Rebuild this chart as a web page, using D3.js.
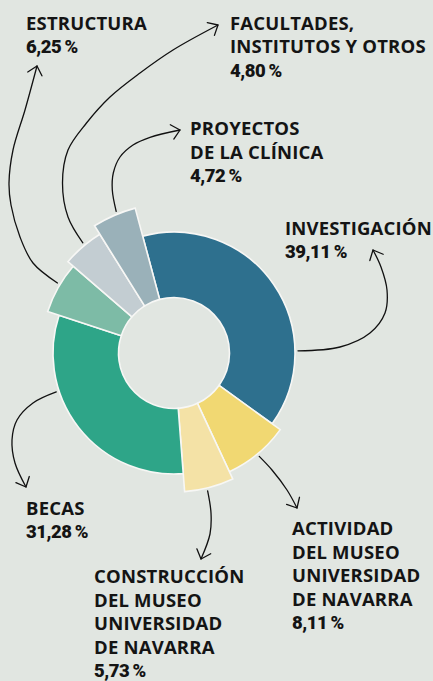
<!DOCTYPE html>
<html>
<head>
<meta charset="utf-8">
<script src="https://cdn.jsdelivr.net/npm/d3@7"></script>
<style>
  html, body { margin: 0; padding: 0; background: #e1e6e1; }
  svg { display: block; }
  .lbl { font-family: "Open Sans", "Noto Sans", sans-serif; font-weight: 700; fill: #141414; }
  .pct { font-family: Roboto, "Open Sans", sans-serif; font-weight: 900; fill: #141414; }
</style>
</head>
<body>
<svg id="chart" width="433" height="681"></svg>
<script>
// Budget shares, clockwise from the top
const categories = [
  "INVESTIGACIÓN",
  "ACTIVIDAD DEL MUSEO UNIVERSIDAD DE NAVARRA",
  "CONSTRUCCIÓN DEL MUSEO UNIVERSIDAD DE NAVARRA",
  "BECAS",
  "ESTRUCTURA",
  "FACULTADES, INSTITUTOS Y OTROS",
  "PROYECTOS DE LA CLÍNICA"
];
const values = [39.11, 8.11, 5.73, 31.28, 6.25, 4.80, 4.72];

// Label lines as set in the chart
const labelLines = [
  ["INVESTIGACIÓN"],
  ["ACTIVIDAD", "DEL MUSEO", "UNIVERSIDAD", "DE NAVARRA"],
  ["CONSTRUCCIÓN", "DEL MUSEO", "UNIVERSIDAD", "DE NAVARRA"],
  ["BECAS"],
  ["ESTRUCTURA"],
  ["FACULTADES,", "INSTITUTOS Y OTROS"],
  ["PROYECTOS", "DE LA CLÍNICA"]
];

// Styling / layout per slice
const colors = ["#2e708e", "#f1d872", "#f4e2a6", "#2ea588", "#7dbba6", "#c3cdd2", "#9ab1b9"];
const outerRadii = [121, 131, 139, 121, 133, 140, 150];
const labelPos = [[285, 234.5], [292, 535], [94, 583], [26, 514.5], [26, 29.5], [230, 29.5], [190, 135]];
// Where each annotation arrow leaves its slice (degrees, clockwise from 12 o'clock)
const arrowStartAngle = [89, 140.5, 166.3, 251.7, 301, 320.4, 337.8];
// Waypoints of each arrow after its start, ending at the tip
const arrowPaths = [
  [[340, 347], [370, 333], [385, 313], [387, 290], [381, 267], [373, 250]],
  [[272, 470], [287, 490], [297, 508]],
  [[211, 513], [210, 534], [201, 559]],
  [[33, 403], [17, 420], [12, 440], [15, 463], [26, 487]],
  [[33, 263], [20, 237], [11, 205], [9, 183], [13, 150], [25, 110], [37, 66]],
  [[68, 217], [62.5, 183], [68, 150], [86.5, 123], [110, 97], [140, 73], [173, 50], [218, 25]],
  [[112.3, 190], [113.3, 173], [120, 157], [133, 145], [150, 137.3], [180, 130]]
];

const cx = 174, cy = 353, innerR = 55.5;
const lineH = 23.5;

const svg = d3.select("#chart");
svg.append("rect").attr("width", 433).attr("height", 681).attr("fill", "#e1e6e1");

const data = values.map((v, i) => ({ name: categories[i], value: v, i }));

const start = -15 * Math.PI / 180;
const pie = d3.pie().value(d => d.value).sort(null)
  .startAngle(start).endAngle(start + 2 * Math.PI);
const arcs = pie(data);

const arc = d3.arc()
  .innerRadius(innerR)
  .outerRadius(d => outerRadii[d.data.i]);

const g = svg.append("g").attr("transform", `translate(${cx},${cy})`);
g.selectAll("path.slice")
  .data(arcs)
  .join("path")
  .attr("class", "slice")
  .attr("d", arc)
  .attr("fill", d => colors[d.data.i])
  .attr("stroke", "#f7f7f5")
  .attr("stroke-width", 1.6)
  .attr("stroke-linejoin", "miter");

// Annotation arrows
const curve = d3.line().curve(d3.curveCatmullRom.alpha(0.5));
const arrows = svg.append("g")
  .attr("fill", "none")
  .attr("stroke", "#111")
  .attr("stroke-width", 1.3)
  .attr("stroke-linecap", "round")
  .attr("stroke-linejoin", "round");

arcs.forEach(a => {
  const i = a.data.i;
  const ang = arrowStartAngle[i] * Math.PI / 180;
  const r = outerRadii[i] + 3;
  const p0 = [cx + r * Math.sin(ang), cy - r * Math.cos(ang)];
  const pts = [p0, ...arrowPaths[i]];
  arrows.append("path").attr("d", curve(pts));
  const tip = pts[pts.length - 1], prev = pts[pts.length - 2];
  const dir = Math.atan2(tip[1] - prev[1], tip[0] - prev[0]);
  const spread = 42 * Math.PI / 180, len = 11;
  const h1 = [tip[0] - len * Math.cos(dir - spread), tip[1] - len * Math.sin(dir - spread)];
  const h2 = [tip[0] - len * Math.cos(dir + spread), tip[1] - len * Math.sin(dir + spread)];
  arrows.append("path").attr("d", d3.line()([h1, tip, h2]));
});

// Labels
const fmt = v => d3.format(".2f")(v).replace(".", ",") + "\u2009%";
arcs.forEach(a => {
  const i = a.data.i;
  const [x, y] = labelPos[i];
  const t = svg.append("g");
  labelLines[i].forEach((line, k) => {
    t.append("text").attr("class", "lbl")
      .attr("x", x).attr("y", y + k * lineH)
      .attr("font-size", 18.5)
      .attr("letter-spacing", 0.2)
      .text(line);
  });
  t.append("text").attr("class", "pct")
    .attr("x", x).attr("y", y + labelLines[i].length * lineH)
    .attr("font-size", 18.5)
    .attr("letter-spacing", -0.5)
    .text(fmt(a.data.value));
});
</script>
</body>
</html>
